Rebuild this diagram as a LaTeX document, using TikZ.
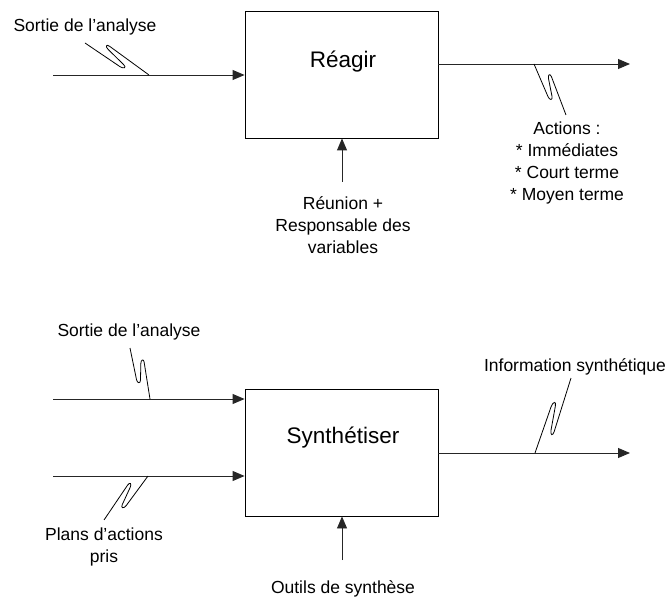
\documentclass[tikz,border=0pt]{standalone}
\usepackage{fontspec}
\setmainfont{Liberation Sans}
\usetikzlibrary{arrows.meta,calc}
% squiggle (lightning mark) from #1 to #2, #3 = 1 or -1 chooses the side
\newcommand\squig[3]{\path let \p1=($(#2)-(#1)$), \n1={atan2(\y1,\x1)}, \n2={veclen(\x1,\y1)} in
  (#1) pic[rotate=\n1, xscale=\n2/60, yscale=#3] {squigshape};}
\tikzset{pics/squigshape/.style={code={
  \draw[squiggle] (0,0) -- (35,5.5) .. controls (39,6.1) and (40.7,3.4) .. (37,2)
     -- (20,-4.5) .. controls (16.3,-5.9) and (16.1,-8.8) .. (20,-8) -- (60,0);}}}
\begin{document}
\begin{tikzpicture}[x=1pt,y=-1pt,
  line/.style={line width=0.9pt, draw=black!85},
  arr/.style={line, -{Triangle[length=12pt,width=10pt]}},
  box/.style={draw=black, line width=0.9pt, minimum width=193pt, minimum height=127pt, inner sep=0pt},
  lbl/.style={font=\fontsize{17.5}{22}\selectfont, align=center, inner sep=0pt},
  ttl/.style={font=\fontsize{22.5}{27}\selectfont, inner sep=0pt},
  squiggle/.style={line width=0.8pt, draw=black}]
\useasboundingbox (0,0) rectangle (669,601);

% ---------- Reagir ----------
\node[box] (R) at (341.5,74.5) {};
\node[ttl] (Rt) at (343,62) {Réagir};

\coordinate (in1) at (53,75);
\draw[arr] (in1) -- (R.west |- in1);
\node[lbl] (s1) at (85,27) {Sortie de l’analyse};
\coordinate (q1a) at (85,43);
\coordinate (q1b) at (149,75);
\squig{q1a}{q1b}{1}

\coordinate (out1) at (630,64);
\draw[arr] (R.east |- out1) -- (out1);
\node[lbl] (act) at (567,163) {Actions :\\* Immédiates\\* Court terme\\* Moyen terme};
\coordinate (q2a) at (534,64);
\coordinate (q2b) at (566,115);
\squig{q2a}{q2b}{1}

\coordinate (c1) at (342,182);
\draw[arr] (c1) -- (c1 |- R.south);
\node[lbl] (reu) at (343,225.5) {Réunion +\\Responsable des\\variables};

% ---------- Synthetiser ----------
\node[box] (S) at (341.5,452.5) {};
\node[ttl] (St) at (343,438) {Synthétiser};

\coordinate (in2) at (53,399);
\draw[arr] (in2) -- (S.west |- in2);
\node[lbl] (s2) at (129,332) {Sortie de l’analyse};
\coordinate (q3a) at (130,348);
\coordinate (q3b) at (150,399);
\squig{q3a}{q3b}{1}

\coordinate (in3) at (53,476);
\draw[arr] (in3) -- (S.west |- in3);
\node[lbl] (plans) at (104,546.5) {Plans d’actions\\pris};
\coordinate (q4a) at (148,476);
\coordinate (q4b) at (104,520);
\squig{q4a}{q4b}{-1}

\coordinate (out2) at (630,453);
\draw[arr] (S.east |- out2) -- (out2);
\node[lbl] (info) at (575,367) {Information synthétique};
\coordinate (q5a) at (535,453);
\coordinate (q5b) at (571,378);
\squig{q5a}{q5b}{-1}

\coordinate (c2) at (342,560);
\draw[arr] (c2) -- (c2 |- S.south);
\node[lbl] (outils) at (343,589) {Outils de synthèse};
\end{tikzpicture}
\end{document}
